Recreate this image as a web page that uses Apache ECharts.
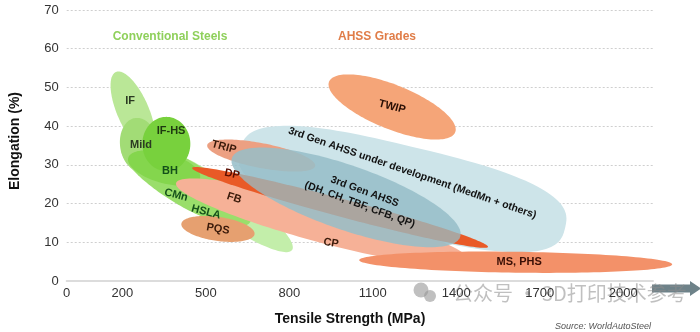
<!DOCTYPE html>
<html><head><meta charset="utf-8">
<script src="https://cdn.jsdelivr.net/npm/echarts@6/dist/echarts.min.js"></script>
<style>html,body{margin:0;padding:0;background:#fff}#c{width:700px;height:332px}</style>
</head><body><div id="c"></div>
<script>
// ---- data (tensile strength MPa, elongation %) ----
const xTickValues = [0, 200, 500, 800, 1100, 1400, 1700, 2000];
const bandNames    = ['HSLA','CMn','IF','Mild','BH','IF-HS','PQS','3rd Gen under development','TRIP','FB/CP','DP','3rd Gen AHSS','TWIP','MS, PHS'];
const bandStartTS  = [299, 199, 177, 246, 221, 358, 412, 623, 505, 393, 451, 594, 943, 1051];
const bandStartEl  = [33.8, 35.1, 54.0, 42.1, 31.8, 42.4, 14.8, 33.8, 35.1, 25.3, 29.2, 31.8, 51.5, 5.4];
const bandEndTS    = [810, 659, 299, 274, 479, 358, 675, 1791, 893, 1450, 1514, 1414, 1396, 2176];
const bandEndEl    = [8.0, 15.2, 33.8, 28.2, 26.6, 28.4, 12.1, 13.7, 29.7, 4.9, 8.8, 11.4, 38.4, 4.3];
const bandHalfEl   = [4.65, 5.7, 4.1, 4.9, 3.9, 6.2, 3.1, 11.2, 3.2, 5.2, 2.3, 8.3, 5.7, 2.7];
// DP is seen faintly through the 3rd Gen AHSS ellipse
const seeThroughBands = ['DP'];

const labelTexts = ['IF','Mild','IF-HS','BH','CMn','HSLA','PQS','TRIP','DP','FB','CP','TWIP','MS, PHS',
  '3rd Gen AHSS under development (MedMn + others)','3rd Gen AHSS\n(DH, CH, TBF, CFB, QP)'];
const labelTS    = [228, 267, 375, 371, 393, 501, 544, 565, 594, 602, 950, 1169, 1626, 1242, 1062];
const labelEl    = [46.5, 35.1, 38.7, 28.4, 22.2, 17.8, 13.4, 34.6, 27.6, 21.4, 9.8, 45.0, 4.9, 27.9, 21.4];

// ---- styles ----
const bandStyle = {
  'HSLA': {color:'#c3eeaa'}, 'CMn': {color:'#9ade6b'}, 'IF': {color:'#bae797'},
  'Mild': {color:'#a2dc76'}, 'BH': {color:'#84d64d'}, 'IF-HS': {color:'#78d13d'},
  'PQS': {color:'#e6a070'}, '3rd Gen under development': {color:'#cde4e9', n:2.8},
  'TRIP': {color:'#eca082'}, 'FB/CP': {color:'#f6b197'}, 'DP': {color:'#ea5a28'},
  '3rd Gen AHSS': {color:'rgba(150,190,200,0.86)'}, 'TWIP': {color:'#f5a578'}, 'MS, PHS': {color:'#f39169'}
};
const seeThroughStyle = {color:'rgba(234,90,40,0.13)'};
const labelStyle = {
  'IF': {c:'#2b3a22', r:0}, 'Mild': {c:'#2b3a22', r:0}, 'IF-HS': {c:'#1e3a10', r:0},
  'BH': {c:'#14501a', r:0}, 'CMn': {c:'#14501a', r:-15}, 'HSLA': {c:'#14501a', r:-15},
  'PQS': {c:'#3a1a0a', r:-10}, 'TRIP': {c:'#3a1a0a', r:-15}, 'DP': {c:'#5a0d00', r:-12},
  'FB': {c:'#3a1a0a', r:-18}, 'CP': {c:'#3a1a0a', r:-10}, 'TWIP': {c:'#2a0f05', r:-15},
  'MS, PHS': {c:'#3a0f05', r:0},
  '3rd Gen AHSS under development (MedMn + others)': {c:'#111', r:-19, fs:10.5},
  '3rd Gen AHSS\n(DH, CH, TBF, CFB, QP)': {c:'#111', r:-20, fs:10.5, lh:14}
};

const chart = echarts.init(document.getElementById('c'), null, {renderer:'canvas'});

function ellipsePoints(api, n){
  const p1 = api.coord([api.value(0), api.value(1)]);
  const p2 = api.coord([api.value(2), api.value(3)]);
  const hw = api.size([0, api.value(4)])[1];
  const cx = (p1[0]+p2[0])/2, cy = (p1[1]+p2[1])/2;
  const dx = p2[0]-p1[0], dy = p2[1]-p1[1];
  const a = Math.hypot(dx, dy)/2, ang = Math.atan2(dy, dx);
  const pts = [];
  for (let i = 0; i < 144; i++) {
    const t = i/144*2*Math.PI, c = Math.cos(t), s = Math.sin(t);
    const u = a*Math.sign(c)*Math.pow(Math.abs(c), 2/n);
    const v = hw*Math.sign(s)*Math.pow(Math.abs(s), 2/n);
    pts.push([cx + u*Math.cos(ang) - v*Math.sin(ang), cy + u*Math.sin(ang) + v*Math.cos(ang)]);
  }
  return pts;
}
function bandItem(params, api){
  const st = bandStyle[bandNames[params.dataIndex]];
  return {type:'polygon', shape:{points:ellipsePoints(api, st.n || 2)}, style:{fill:st.color}};
}
function overlayItem(params, api){
  return {type:'polygon', shape:{points:ellipsePoints(api, 2)}, style:{fill:seeThroughStyle.color}};
}
function labelItem(params, api){
  const p = api.coord([api.value(0), api.value(1)]);
  const txt = labelTexts[params.dataIndex];
  const st = labelStyle[txt];
  return {type:'text', x:p[0], y:p[1], rotation: st.r*Math.PI/180,
    style:{text:txt, fill:st.c, font:'bold '+(st.fs||11)+'px "Liberation Sans", Arial, sans-serif',
      align:'center', verticalAlign:'middle', lineHeight: st.lh || 13}};
}
const bandRows = bandStartTS.map((x,i)=>[x, bandStartEl[i], bandEndTS[i], bandEndEl[i], bandHalfEl[i]]);

const option = {
  animation:false,
  grid:{left:66.7, right:47, top:10, bottom:51, containLabel:false},
  xAxis:{type:'value', min:0, max:2107, zlevel:1,
    axisLine:{show:true, lineStyle:{color:'#dcdcdc', width:2}},
    axisTick:{show:false}, splitLine:{show:false},
    axisLabel:{customValues:xTickValues, formatter:v=>String(v), color:'#333', fontSize:13, margin:6,
      fontFamily:'"Liberation Sans", Arial, sans-serif'}},
  yAxis:{type:'value', min:0, max:70, interval:10,
    axisLine:{show:false}, axisTick:{show:false},
    splitLine:{show:true, lineStyle:{color:'#cfcfcf', type:[2,2], width:1}},
    axisLabel:{color:'#333', fontSize:13, margin:8, fontFamily:'"Liberation Sans", Arial, sans-serif'}},
  series:[
    {type:'custom', renderItem:bandItem, clip:false, silent:true, z:2,
     encode:{x:[0,2], y:[1,3]}, data: bandRows},
    {type:'custom', renderItem:overlayItem, clip:false, silent:true, z:3,
     encode:{x:[0,2], y:[1,3]},
     data: bandRows.filter((r,i)=>seeThroughBands.includes(bandNames[i]))},
    {type:'custom', renderItem:labelItem, clip:false, silent:true, z:4,
     encode:{x:0, y:1},
     data: labelTS.map((x,i)=>[x, labelEl[i]])}
  ],
  graphic:[
    {type:'text', x:170, y:37, z:1, style:{text:'Conventional Steels', fill:'#8fd05b', font:'bold 12px "Liberation Sans", Arial, sans-serif', align:'center', verticalAlign:'middle'}},
    {type:'text', x:377, y:37, z:1, style:{text:'AHSS Grades', fill:'#e07d48', font:'bold 12px "Liberation Sans", Arial, sans-serif', align:'center', verticalAlign:'middle'}},
    {type:'text', x:350, y:319, style:{text:'Tensile Strength (MPa)', fill:'#111', font:'bold 14px "Liberation Sans", Arial, sans-serif', align:'center', verticalAlign:'middle'}},
    {type:'text', x:15, y:141, rotation:Math.PI/2, style:{text:'Elongation (%)', fill:'#111', font:'bold 14px "Liberation Sans", Arial, sans-serif', align:'center', verticalAlign:'middle'}},
    {type:'text', x:651, y:326, style:{text:'Source: WorldAutoSteel', fill:'#555', font:'italic 9px "Liberation Sans", Arial, sans-serif', align:'right', verticalAlign:'middle'}},
    {type:'polygon', z:0, shape:{points:[[652,284.5],[690,284.5],[690,281],[701,288.5],[690,296],[690,292.5],[652,292.5]]}, style:{fill:'#6e8289'}},
    {type:'group', z:0, silent:true, children:[
      {type:'circle', shape:{cx:421, cy:290, r:7.5}, style:{fill:'rgba(150,150,150,0.6)'}},
      {type:'circle', shape:{cx:430, cy:296, r:6}, style:{fill:'rgba(150,150,150,0.6)'}},
      {type:'text', x:453, y:293, style:{text:'公众号 · 3D打印技术参考', fill:'rgba(140,140,140,0.55)', font:'20px "Noto Sans CJK SC", sans-serif', align:'left', verticalAlign:'middle'}}
    ]}
  ]
};
chart.setOption(option);
</script></body></html>
